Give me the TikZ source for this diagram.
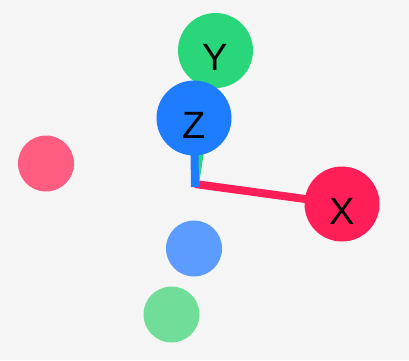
\documentclass[tikz,border=0pt]{standalone}
\usepackage{fontspec}
\setmainfont{Liberation Sans}
\definecolor{bg}{RGB}{245,245,245}
\definecolor{xpos}{RGB}{255,30,88}
\definecolor{xneg}{RGB}{255,92,130}
\definecolor{ypos}{RGB}{42,214,122}
\definecolor{yneg}{RGB}{112,222,152}
\definecolor{zpos}{RGB}{30,124,255}
\definecolor{zneg}{RGB}{92,156,255}
\begin{document}
\begin{tikzpicture}[x=1pt,y=-1pt,
  axisline/.style={line width=8pt},
  bigball/.style={circle,minimum size=75pt,inner sep=0pt},
  smallball/.style={circle,minimum size=56pt,inner sep=0pt},
  lbl/.style={font=\fontsize{38}{38}\selectfont,text=black,anchor=base}]
\fill[bg] (0,0) rectangle (409,360);
\useasboundingbox (0,0) rectangle (409,360);
\coordinate (o) at (195,184);
\coordinate (ozb) at (195,187);
% negative balls
\node[smallball,fill=yneg] (ny) at (171.5,314.5) {};
\node[smallball,fill=zneg] (nz) at (194,248.5) {};
\node[smallball,fill=xneg] (nx) at (46,163.5) {};
% positive balls
\coordinate (xc) at (342,204);
\coordinate (yc) at (215.5,50.5);
\coordinate (zc) at (194,118);
\draw[axisline,xpos] (o) -- (xc);
\draw[axisline,ypos] (o) -- (yc);
\draw[axisline,zpos] (ozb) -- (zc);
\node[bigball,fill=xpos] (x) at (xc) {};
\node[bigball,fill=ypos] (y) at (yc) {};
\node[bigball,fill=zpos] (z) at (zc) {};
\node[lbl] at ([yshift=-20pt]x.center) {X};
\node[lbl] at ([yshift=-20pt]y.center) {Y};
\node[lbl] at ([yshift=-20pt]z.center) {Z};
\end{tikzpicture}
\end{document}
